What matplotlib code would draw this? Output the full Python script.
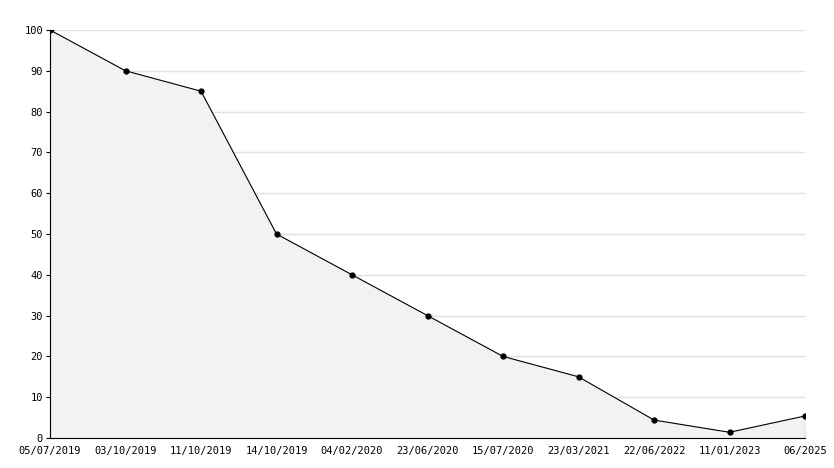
import matplotlib.pyplot as plt
from matplotlib.ticker import MultipleLocator
from matplotlib.transforms import ScaledTranslation

dates = ['05/07/2019', '03/10/2019', '11/10/2019', '14/10/2019', '04/02/2020',
         '23/06/2020', '15/07/2020', '23/03/2021', '22/06/2022', '11/01/2023', '06/2025']
values = [100, 90, 85, 50, 40, 30, 20, 15, 4.4, 1.4, 5.4]

plt.rcParams['font.family'] = 'DejaVu Sans Mono'

fig = plt.figure(figsize=(8.34, 4.68), dpi=100)
ax = fig.add_axes([50 / 834, 30 / 468, 755 / 834, 408 / 468])

x = list(range(len(dates)))
ax.fill_between(x, values, 0, color='#f2f2f2', zorder=1)
ax.plot(x, values, color='black', linewidth=0.8, marker='o', markersize=3.5, zorder=3)
ax.vlines(x[-1], 0, values[-1], color='black', linewidth=0.8, zorder=3)

ax.set_xlim(0, len(dates) - 1)
ax.set_ylim(0, 100)
ax.set_xticks(x)
ax.set_xticklabels(dates)
ax.yaxis.set_major_locator(MultipleLocator(10))
ax.yaxis.set_minor_locator(MultipleLocator(5))

ax.grid(axis='y', color='#e0e0e0', linewidth=1, zorder=0)
ax.set_axisbelow(True)
for s in ['top', 'right']:
    ax.spines[s].set_visible(False)

ax.tick_params(axis='x', direction='in', length=5, labelsize=7.5, pad=6)
ax.tick_params(axis='y', which='major', direction='inout', length=6, labelsize=7.5, pad=2)
ax.tick_params(axis='y', which='minor', direction='in', length=3)

# nudge the "0" label up a little, like the reference
zero = ax.get_yticklabels()[0]
zero.set_transform(zero.get_transform() + ScaledTranslation(0, 2 / 72, fig.dpi_scale_trans))

fig.savefig('out.png', dpi=100)
